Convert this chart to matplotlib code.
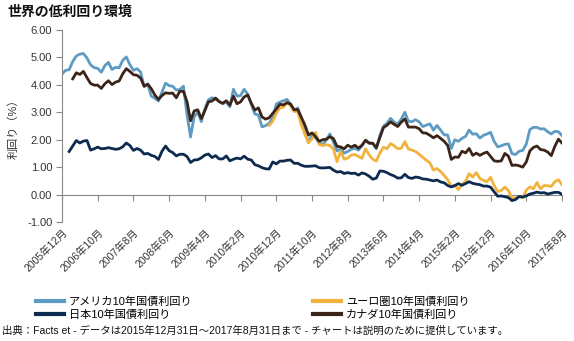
import numpy as np
import matplotlib
matplotlib.use("Agg")
import matplotlib.pyplot as plt
from matplotlib.lines import Line2D

plt.rcParams['font.family'] = ['Liberation Sans', 'Noto Sans CJK JP', 'DejaVu Sans']

NA = np.nan

# Monthly data, 2005-12 .. 2017-08 (141 months)
us = [4.39,
      4.53, 4.55, 4.85, 5.05, 5.12, 5.14, 4.98, 4.73, 4.63, 4.60, 4.46, 4.70,
      4.82, 4.56, 4.64, 4.62, 4.89, 5.02, 4.74, 4.53, 4.59, 4.47, 3.94, 4.02,
      3.59, 3.51, 3.41, 3.73, 4.06, 3.97, 3.95, 3.81, 3.83, 3.95, 2.92, 2.10,
      2.84, 3.00, 2.66, 3.12, 3.46, 3.53, 3.48, 3.39, 3.31, 3.38, 3.20, 3.84,
      3.59, 3.61, 3.84, 3.66, 3.28, 2.94, 2.90, 2.47, 2.51, 2.60, 2.80, 3.30,
      3.37, 3.42, 3.47, 3.29, 3.05, 3.16, 2.80, 2.22, 1.92, 2.17, 2.08, 1.88,
      1.83, 1.98, 2.21, 1.91, 1.59, 1.67, 1.51, 1.57, 1.65, 1.69, 1.62, 1.78,
      1.98, 1.89, 1.87, 1.67, 2.16, 2.49, 2.60, 2.78, 2.64, 2.57, 2.75, 3.00,
      2.67, 2.66, 2.73, 2.65, 2.48, 2.53, 2.58, 2.35, 2.52, 2.35, 2.18, 2.17,
      1.68, 2.00, 1.94, 2.05, 2.12, 2.35, 2.20, 2.22, 2.06, 2.16, 2.21, 2.27,
      1.94, 1.74, 1.78, 1.83, 1.85, 1.49, 1.46, 1.58, 1.61, 1.84, 2.37, 2.45,
      2.45, 2.39, 2.40, 2.29, 2.21, 2.31, 2.29, 2.15]

euro = [NA,
        NA, NA, NA, NA, NA, NA, NA, NA, NA, NA, NA, NA,
        NA, NA, NA, NA, NA, NA, NA, NA, NA, NA, NA, NA,
        NA, NA, NA, NA, NA, NA, NA, NA, NA, NA, NA, NA,
        NA, NA, NA, NA, NA, NA, NA, NA, NA, NA, NA, NA,
        NA, NA, NA, NA, NA, NA, NA, NA, NA, 2.52, 2.67, 2.96,
        3.16, 3.19, 3.35, 3.24, 3.03, 3.03, 2.54, 2.21, 1.89, 2.03, 2.27, 1.83,
        1.79, 1.82, 1.79, 1.66, 1.20, 1.58, 1.29, 1.33, 1.44, 1.46, 1.39, 1.32,
        1.67, 1.45, 1.29, 1.22, 1.51, 1.73, 1.67, 1.86, 1.78, 1.67, 1.69, 1.93,
        1.66, 1.62, 1.57, 1.47, 1.36, 1.25, 1.16, 0.89, 0.95, 0.84, 0.70, 0.54,
        0.30, 0.33, 0.18, 0.37, 0.49, 0.76, 0.64, 0.80, 0.59, 0.52, 0.47, 0.63,
        0.33, 0.11, 0.15, 0.27, 0.14, -0.13, -0.12, -0.07, -0.12, 0.16, 0.28, 0.21,
        0.44, 0.21, 0.33, 0.32, 0.30, 0.47, 0.54, 0.36]

japan = [NA,
         NA, 1.57, 1.77, 1.97, 1.88, 1.95, 1.97, 1.62, 1.67, 1.73, 1.67, 1.68,
         1.71, 1.68, 1.65, 1.67, 1.74, 1.88, 1.79, 1.61, 1.68, 1.62, 1.48, 1.50,
         1.43, 1.39, 1.28, 1.58, 1.77, 1.60, 1.53, 1.41, 1.47, 1.47, 1.39, 1.17,
         1.26, 1.27, 1.34, 1.44, 1.48, 1.35, 1.42, 1.30, 1.30, 1.41, 1.23, 1.29,
         1.33, 1.30, 1.40, 1.29, 1.26, 1.09, 1.05, 0.98, 0.94, 0.93, 1.19, 1.12,
         1.22, 1.22, 1.25, 1.26, 1.14, 1.14, 1.07, 1.03, 1.03, 1.04, 1.05, 0.98,
         0.97, 0.98, 0.99, 0.89, 0.82, 0.84, 0.77, 0.80, 0.77, 0.78, 0.71, 0.79,
         0.75, 0.67, 0.56, 0.60, 0.86, 0.85, 0.80, 0.73, 0.68, 0.60, 0.61, 0.74,
         0.62, 0.59, 0.64, 0.62, 0.57, 0.56, 0.53, 0.50, 0.53, 0.46, 0.43, 0.33,
         0.28, 0.33, 0.40, 0.34, 0.40, 0.47, 0.41, 0.38, 0.36, 0.31, 0.31, 0.27,
         0.10, -0.06, -0.05, -0.08, -0.11, -0.22, -0.18, -0.07, -0.09, -0.05, 0.02, 0.05,
         0.09, 0.06, 0.07, 0.02, 0.05, 0.08, 0.08, 0.01]

canada = [NA,
          NA, NA, 4.22, 4.44, 4.38, 4.49, 4.26, 4.05, 3.99, 3.99, 3.87, 4.04,
          4.15, 4.01, 4.10, 4.14, 4.40, 4.59, 4.49, 4.37, 4.35, 4.25, 3.95, 4.03,
          3.86, 3.63, 3.47, 3.61, 3.71, 3.69, 3.70, 3.53, 3.77, 3.76, 3.39, 2.69,
          3.05, 3.09, 2.77, 3.06, 3.38, 3.41, 3.52, 3.39, 3.33, 3.42, 3.26, 3.59,
          3.31, 3.38, 3.56, 3.63, 3.33, 3.08, 3.16, 2.83, 2.75, 2.80, 2.96, 3.12,
          3.29, 3.27, 3.35, 3.30, 3.09, 3.10, 2.82, 2.54, 2.17, 2.25, 2.11, 1.94,
          2.00, 2.02, 2.11, 2.04, 1.76, 1.74, 1.67, 1.80, 1.73, 1.80, 1.69, 1.80,
          1.98, 1.87, 1.87, 1.71, 2.08, 2.44, 2.53, 2.65, 2.56, 2.48, 2.64, 2.76,
          2.46, 2.46, 2.46, 2.40, 2.25, 2.24, 2.16, 2.07, 2.15, 2.05, 1.94, 1.79,
          1.28, 1.37, 1.36, 1.58, 1.52, 1.68, 1.43, 1.51, 1.43, 1.50, 1.55, 1.39,
          1.23, 1.21, 1.23, 1.50, 1.40, 1.06, 1.08, 1.05, 1.00, 1.19, 1.59, 1.72,
          1.77, 1.64, 1.62, 1.55, 1.42, 1.76, 2.02, 1.88]

tick_labels = ["2005年12月", "2006年10月", "2007年8月", "2008年6月", "2009年4月",
               "2010年2月", "2010年12月", "2011年10月", "2012年8月", "2013年6月",
               "2014年4月", "2015年2月", "2015年12月", "2016年10月", "2017年8月"]

names = ["アメリカ10年国債利回り", "日本10年国債利回り",
         "ユーロ圏10年国債利回り", "カナダ10年国債利回り"]
c_us, c_jp, c_eu, c_ca = "#5e9bc2", "#0c2b4f", "#f2b33d", "#3c2418"

x = np.arange(len(us))
tick_pos = np.arange(0, len(us), 10)

fig = plt.figure(figsize=(5.74, 3.41), dpi=100)
ax = fig.add_axes([62/574, 1-222/341, 500/574, 192/341])

lw = 2.0
ax.plot(x, us, color=c_us, lw=lw, solid_joinstyle='round')
ax.plot(x, euro, color=c_eu, lw=lw, solid_joinstyle='round')
ax.plot(x, japan, color=c_jp, lw=lw, solid_joinstyle='round')
ax.plot(x, canada, color=c_ca, lw=lw, solid_joinstyle='round')

ax.set_xlim(0, len(us) - 1)
ax.set_ylim(-1, 6)
ax.set_yticks(np.arange(-1, 7, 1))
ax.set_yticklabels([f"{v:.2f}" for v in np.arange(-1, 7, 1)])

for s in ['top', 'right']:
    ax.spines[s].set_visible(False)
ax.spines['left'].set_color('#888888')
ax.spines['bottom'].set_position(('data', 0))
ax.spines['bottom'].set_color('#888888')
ax.spines['bottom'].set_zorder(0)
ax.set_xticks(tick_pos)
ax.tick_params(axis='x', direction='out', length=4, color='#888888', labelbottom=False)
ax.tick_params(axis='y', direction='out', length=4, color='#888888', labelsize=8,
               labelcolor='#333333', pad=3)

sec = ax.secondary_xaxis(0)
sec.set_xticks(tick_pos)
sec.set_xticklabels(tick_labels, rotation=45, ha='right', rotation_mode='anchor',
                    fontsize=7.5, color='#333333')
sec.tick_params(length=0, pad=4)
sec.spines['bottom'].set_visible(False)

ax.set_ylabel("利回り（%）", fontsize=8, color='#333333', labelpad=6)

fig.text(8/574, 1-12/341, "世界の低利回り環境", fontsize=10, fontweight='bold',
         va='center', ha='left', color='#111111')

h = [Line2D([], [], color=c, lw=3) for c in (c_us, c_jp, c_eu, c_ca)]
leg1 = fig.legend(h[:2], names[:2], loc='upper left', bbox_to_anchor=(30/574, 1-291/341),
                  frameon=False, fontsize=8, handlelength=2.6, handletextpad=0.4,
                  labelspacing=0.25, borderpad=0)
leg2 = fig.legend(h[2:], names[2:], loc='upper left', bbox_to_anchor=(307/574, 1-291/341),
                  frameon=False, fontsize=8, handlelength=2.6, handletextpad=0.4,
                  labelspacing=0.25, borderpad=0)

fig.text(2/574, 1-331/341,
         "出典：Facts et - データは2015年12月31日～2017年8月31日まで - チャートは説明のために提供しています。",
         fontsize=7.5, va='center', ha='left', color='#111111')

fig.savefig("out.png", dpi=100)
